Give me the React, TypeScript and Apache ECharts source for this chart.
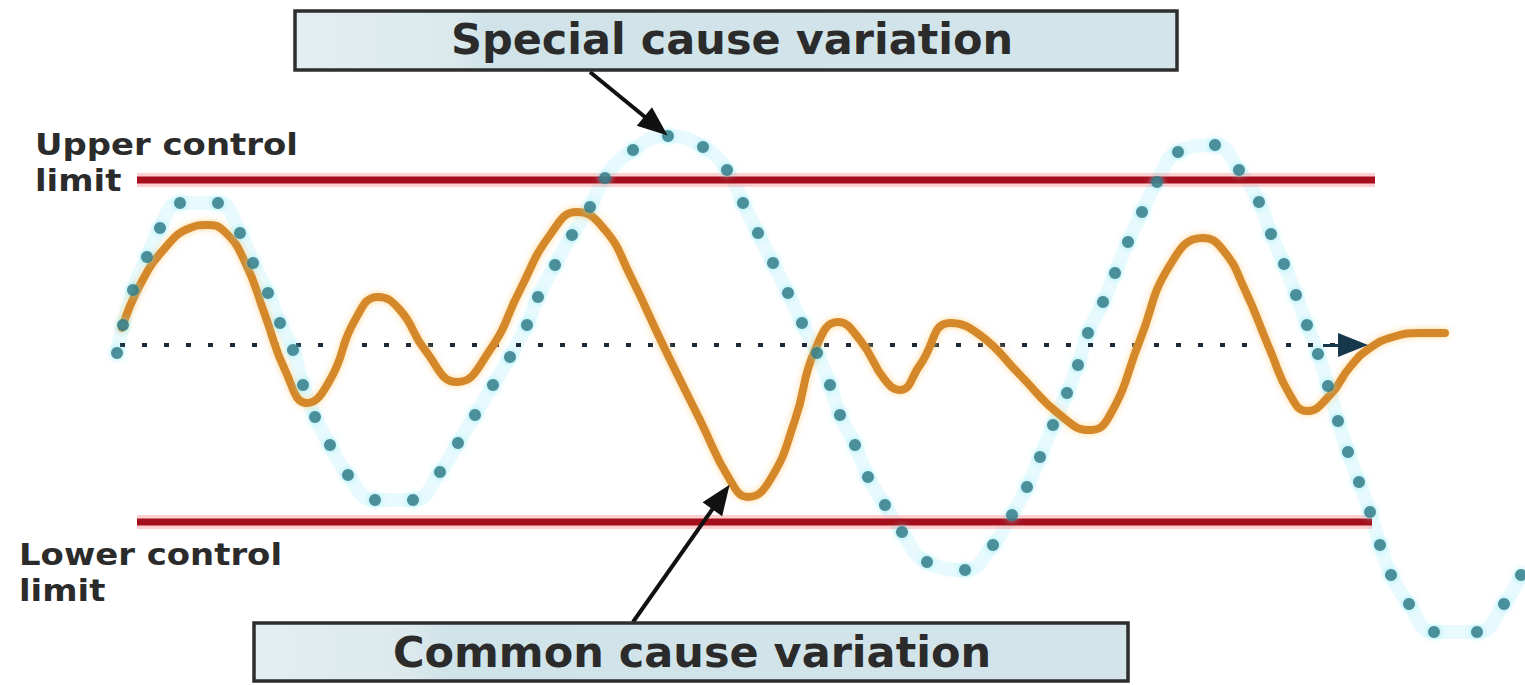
import React, { useEffect, useRef } from "react";
import * as echarts from "echarts";

// Special cause variation (dotted curve) – x in tenths of the drawing width, y = deviation from the centre line
const specialX = [11.7, 12.3, 13.3, 14.7, 16.0, 18.0, 21.8, 24.0, 25.3, 26.8, 28.0, 29.3, 30.3, 31.5, 33.0, 34.8, 37.5, 41.3, 44.0, 45.8, 47.5, 49.3, 51.0, 52.7, 53.8, 55.5, 57.2, 59.0, 60.5, 63.3, 66.8, 70.3, 72.7, 74.3, 75.8, 77.3, 78.8, 80.2, 81.7, 83.0, 84.0, 85.5, 86.8, 88.5, 90.2, 92.7, 96.5, 99.3, 101.2, 102.7, 104.0, 105.3, 106.7, 107.8, 108.8, 110.3, 111.5, 112.8, 114.2, 115.7, 117.8, 121.5, 123.9, 125.9, 127.1, 128.4, 129.6, 130.7, 131.8, 132.8, 133.8, 134.8, 135.9, 137.0, 138.0, 139.1, 140.9, 143.4, 147.7, 150.4, 152.1];
const specialY = [-8, 20, 55, 88, 117, 142, 142, 112, 82, 52, 22, -5, -40, -72, -100, -130, -155, -155, -127, -98, -70, -40, -12, 20, 48, 80, 110, 138, 167, 195, 209, 198, 175, 142, 112, 82, 52, 22, -8, -40, -70, -100, -132, -160, -187, -217, -225, -200, -170, -142, -112, -80, -48, -20, 12, 43, 72, 103, 133, 163, 193, 200, 175, 143, 111, 81, 50, 20, -9, -41, -76, -107, -137, -167, -200, -230, -259, -287, -287, -259, -230];

// Common cause variation (solid curve)
const commonX = [12.2, 14.0, 16.5, 19.0, 20.7, 22.5, 24.5, 26.5, 28.5, 30.7, 33.0, 35.5, 37.8, 40.0, 42.5, 45.7, 49.0, 52.0, 55.0, 57.7, 60.5, 63.0, 66.3, 70.0, 73.0, 74.8, 77.0, 79.5, 81.5, 83.8, 86.0, 88.5, 90.0, 92.0, 95.0, 98.0, 102.0, 106.0, 109.0, 111.0, 114.0, 117.0, 120.3, 122.3, 124.5, 127.0, 129.0, 130.7, 133.0, 135.0, 137.0, 139.3, 142.0, 144.5];
const commonY = [17, 60, 97, 117, 120, 113, 83, 30, -25, -58, -35, 25, 48, 35, -5, -37, -5, 55, 110, 133, 115, 70, 0, -75, -135, -152, -135, -75, -5, 23, 5, -35, -45, -20, 22, 10, -30, -70, -85, -70, 5, 80, 107, 95, 55, -5, -50, -66, -50, -22, -3, 8, 12, 12];

// Control limits and centre line
const limitNames = ["Upper control limit", "Lower control limit"];
const limitValues = [165, -177];
const limitStartX = [13.7, 13.7];
const limitEndX = [137.5, 137.2];
const centerValue = 0;
const centerStartX = 12.0;
const centerEndX = 135.3;

// Annotation arrows: [startX, startY, endX, endY]
const specialArrow = [59.0, 273, 65.6, 219];
const commonArrow = [63.3, -277, 72.1, -152];

const titles = ["Special cause variation", "Common cause variation"];
const sideLabels = ["Upper control\nlimit", "Lower control\nlimit"];

export default function App() {
  const ref = useRef<HTMLDivElement>(null);

  useEffect(() => {
    document.body.style.margin = "0";
    const chart = echarts.init(ref.current!, undefined, { renderer: "svg" });

    const specialData = specialX.map((x, i) => [x, specialY[i]]);
    const commonData = commonX.map((x, i) => [x, commonY[i]]);

    const boxFill = () =>
      new echarts.graphic.LinearGradient(0, 0, 1, 0, [
        { offset: 0, color: "#e3eef1" },
        { offset: 0.18, color: "#dbe9ed" },
        { offset: 0.22, color: "#d0e3e8" },
        { offset: 1, color: "#d3e5ea" },
      ]);

    const titleFont = 'bold 43px "DejaVu Sans", sans-serif';
    const labelFont = 'bold 30px "DejaVu Sans", sans-serif';

    const text = (
      t: string,
      x: number,
      y: number,
      font: string,
      align = "left",
      lineHeight?: number,
      scaleX = 1
    ) => ({
      type: "text",
      x,
      y,
      scaleX,
      z: 20,
      style: {
        text: t,
        font,
        fill: "#2b2b2b",
        textAlign: align,
        align,
        textVerticalAlign: "top",
        verticalAlign: "top",
        lineHeight,
      },
    });

    const limitSeries: any[] = [];
    limitValues.forEach((v, i) => {
      const data = [
        [limitStartX[i], v],
        [limitEndX[i], v],
      ];
      limitSeries.push({
        type: "line",
        name: limitNames[i] + " glow",
        data,
        symbol: "none",
        silent: true,
        z: 2,
        lineStyle: { color: "rgba(255,150,150,0.45)", width: 14 },
      });
      limitSeries.push({
        type: "line",
        name: limitNames[i],
        data,
        symbol: "none",
        silent: true,
        z: 2,
        lineStyle: { color: "#a50f1c", width: 7 },
      });
    });

    const option: any = {
      animation: false,
      backgroundColor: "#ffffff",
      grid: { left: 0, right: 0, top: 0, bottom: 0 },
      xAxis: { type: "value", min: 0, max: 152.5, show: false, splitLine: { show: false } },
      yAxis: { type: "value", min: -340, max: 345, show: false, splitLine: { show: false } },
      series: [
        // light cyan halo along the dotted curve
        {
          type: "line",
          name: "special-halo",
          data: specialData,
          smooth: 0.5,
          symbol: "none",
          silent: true,
          z: 1,
          lineStyle: { color: "#d9f7fb", width: 14, opacity: 0.6 },
        },
        ...limitSeries,
        // centre line with arrow
        {
          type: "line",
          name: "centre",
          data: [
            [centerStartX, centerValue],
            [centerEndX - 1.5, centerValue],
          ],
          symbol: "none",
          silent: true,
          z: 2,
          lineStyle: { color: "#1d2a38", width: 4, type: [5, 17] },
          markLine: {
            silent: true,
            animation: false,
            symbol: ["none", "triangle"],
            symbolSize: [24, 30],
            label: { show: false },
            emphasis: { disabled: true },
            data: [
              [
                { coord: [centerEndX - 3, centerValue], lineStyle: { color: "#17384a", width: 3, type: "solid" } },
                { coord: [centerEndX, centerValue] },
              ],
            ],
          },
        },
        // common cause curve
        {
          type: "line",
          name: titles[1],
          data: commonData,
          smooth: 0.5,
          symbol: "none",
          silent: true,
          z: 3,
          lineStyle: {
            color: "#d4882b",
            width: 8,
            cap: "round",
            shadowColor: "rgba(255,205,120,0.8)",
            shadowBlur: 6,
          },
        },
        // special cause dots
        {
          type: "scatter",
          name: titles[0],
          data: specialData,
          symbolSize: 12,
          silent: true,
          z: 4,
          itemStyle: { color: "#286f7c", shadowColor: "rgba(120,230,245,0.9)", shadowBlur: 6 },
        },
        // annotation arrows
        {
          type: "line",
          name: "arrows",
          data: [],
          symbol: "none",
          silent: true,
          z: 5,
          markLine: {
            silent: true,
            animation: false,
            symbol: ["none", "triangle"],
            symbolSize: [24, 30],
            label: { show: false },
            emphasis: { disabled: true },
            lineStyle: { color: "#111111", width: 4, type: "solid" },
            data: [
              [{ coord: [specialArrow[0], specialArrow[1]] }, { coord: [specialArrow[2], specialArrow[3]] }],
              [{ coord: [commonArrow[0], commonArrow[1]] }, { coord: [commonArrow[2], commonArrow[3]] }],
            ],
          },
        },
      ],
      graphic: [
        {
          type: "rect",
          x: 295,
          y: 11,
          z: 15,
          shape: { width: 882, height: 59 },
          style: { fill: boxFill(), stroke: "#2e2e2e", lineWidth: 3.5 },
        },
        text(titles[0], 732, 17, titleFont, "center"),
        {
          type: "rect",
          x: 254,
          y: 623,
          z: 15,
          shape: { width: 874, height: 58 },
          style: { fill: boxFill(), stroke: "#2e2e2e", lineWidth: 3.5 },
        },
        text(titles[1], 692, 630, titleFont, "center"),
        text(sideLabels[0], 35, 127, labelFont, "left", 36, 1.13),
        text(sideLabels[1], 19, 537, labelFont, "left", 36, 1.13),
      ],
    };

    chart.setOption(option);
    return () => chart.dispose();
  }, []);

  return <div ref={ref} style={{ width: 1525, height: 685 }} />;
}
